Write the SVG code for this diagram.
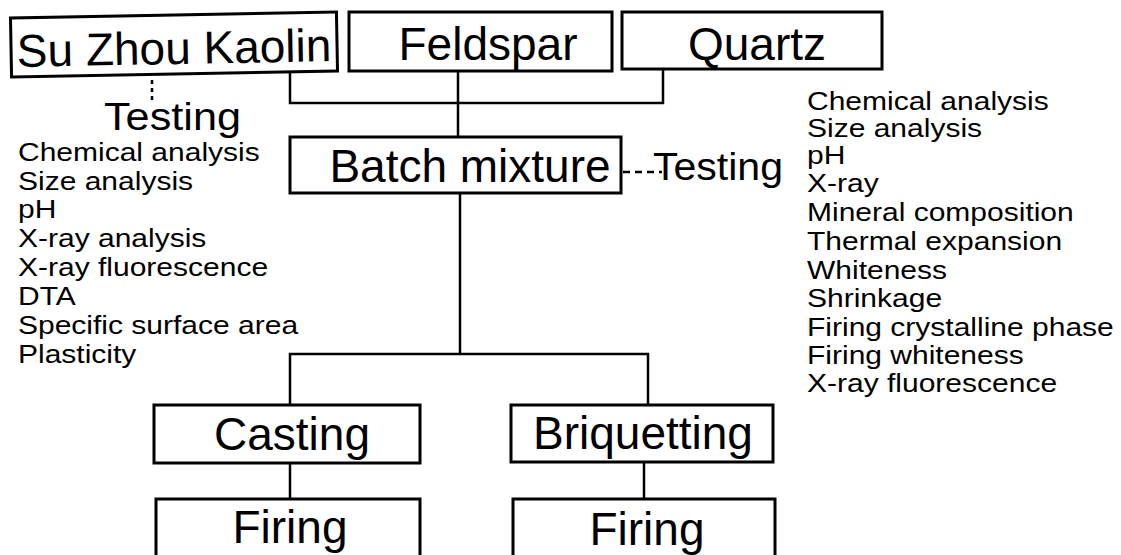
<svg xmlns="http://www.w3.org/2000/svg" width="1121" height="555" viewBox="0 0 1121 555">
<style>
.box{fill:#fff;stroke:#000;stroke-width:3}
.lbl{font-family:"Liberation Sans",Arial,sans-serif;font-size:46px;fill:#000;text-anchor:middle}
.tst{font-family:"Liberation Sans",Arial,sans-serif;font-size:38px;fill:#000}
.lst{font-family:"Liberation Sans",Arial,sans-serif;font-size:25px;fill:#000}
.con{fill:none;stroke:#000;stroke-width:2.5}
.dot{fill:none;stroke:#000;stroke-width:2.5;stroke-dasharray:4 4}
</style>
<rect width="1121" height="555" fill="#fff"/>
<g id="connectors">
<polyline class="con" points="290,72 290,103 663,103 663,70"/>
<line class="con" x1="458" y1="71" x2="458" y2="137"/>
<line class="con" x1="460" y1="193" x2="460" y2="354"/>
<polyline class="con" points="290,405 290,354 648,354 648,405"/>
<line class="con" x1="290" y1="463" x2="290" y2="499"/>
<line class="con" x1="644" y1="462" x2="644" y2="499"/>
<line class="dot" x1="152" y1="80" x2="152" y2="101"/>
<line class="con" x1="623" y1="172" x2="662" y2="172" stroke-dasharray="7 5"/>
</g>
<g id="kaolin" transform="rotate(-1.05 174 44.5)">
<rect class="box" x="11" y="15" width="326" height="59"/>
<text class="lbl" x="174" y="64">Su Zhou Kaolin</text>
</g>
<g id="feldspar">
<rect class="box" x="349" y="12" width="263" height="59"/>
<text class="lbl" x="488" y="60">Feldspar</text>
</g>
<g id="quartz">
<rect class="box" x="622" y="12" width="260" height="57"/>
<text class="lbl" x="757" y="60">Quartz</text>
</g>
<g id="batch">
<rect class="box" x="290" y="137" width="331" height="56"/>
<text class="lbl" x="470" y="182">Batch mixture</text>
</g>
<g id="casting">
<rect class="box" x="154" y="405" width="266" height="58"/>
<text class="lbl" x="292" y="450">Casting</text>
</g>
<g id="briquetting">
<rect class="box" x="511" y="405" width="262" height="57"/>
<text class="lbl" x="643" y="449">Briquetting</text>
</g>
<g id="firing1">
<rect class="box" x="156" y="499" width="264" height="70"/>
<text class="lbl" x="290" y="543">Firing</text>
</g>
<g id="firing2">
<rect class="box" x="513" y="499" width="262" height="70"/>
<text class="lbl" x="647" y="545">Firing</text>
</g>
<g id="testing-left">
<text class="tst" x="104" y="130" textLength="137" lengthAdjust="spacingAndGlyphs">Testing</text>
<g transform="translate(18,0) scale(1.2,1)">
<text class="lst" x="0" y="161">Chemical analysis</text>
<text class="lst" x="0" y="190">Size analysis</text>
<text class="lst" x="0" y="218.5">pH</text>
<text class="lst" x="0" y="247.5">X-ray analysis</text>
<text class="lst" x="0" y="276.5">X-ray fluorescence</text>
<text class="lst" x="0" y="305.5">DTA</text>
<text class="lst" x="0" y="334">Specific surface area</text>
<text class="lst" x="0" y="363">Plasticity</text>
</g>
</g>
<g id="testing-right">
<text class="tst" x="653" y="180" textLength="130" lengthAdjust="spacingAndGlyphs">Testing</text>
<g transform="translate(807,0) scale(1.2,1)">
<text class="lst" x="0" y="110">Chemical analysis</text>
<text class="lst" x="0" y="137">Size analysis</text>
<text class="lst" x="0" y="164">pH</text>
<text class="lst" x="0" y="192">X-ray</text>
<text class="lst" x="0" y="221">Mineral composition</text>
<text class="lst" x="0" y="250">Thermal expansion</text>
<text class="lst" x="0" y="279">Whiteness</text>
<text class="lst" x="0" y="307">Shrinkage</text>
<text class="lst" x="0" y="336">Firing crystalline phase</text>
<text class="lst" x="0" y="364">Firing whiteness</text>
<text class="lst" x="0" y="392">X-ray fluorescence</text>
</g>
</g>
</svg>
